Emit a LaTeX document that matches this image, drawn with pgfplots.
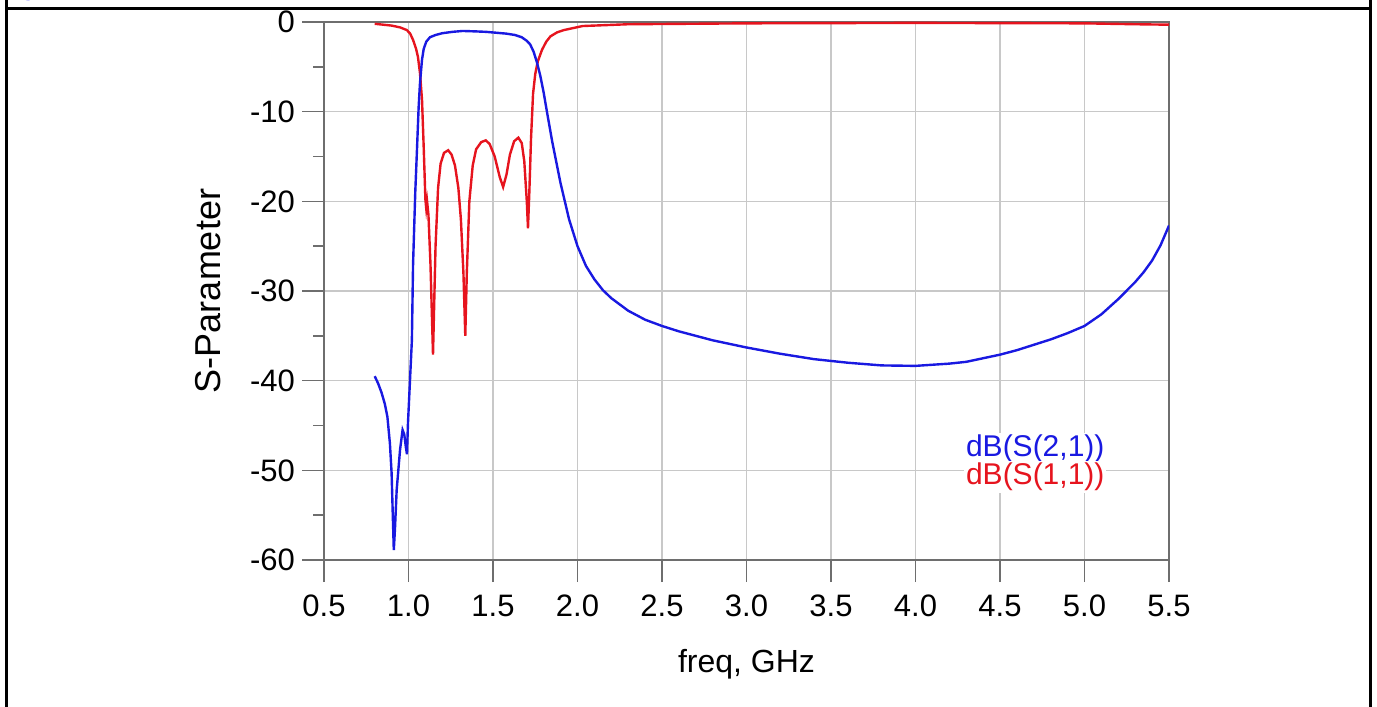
\documentclass[border=0pt]{standalone}
\usepackage{fontspec}
\setmainfont{Liberation Sans}
\usepackage{pgfplots}
\pgfplotsset{compat=1.18}

\definecolor{sblue}{RGB}{25,25,225}
\definecolor{sred}{RGB}{230,20,30}
\definecolor{gridgray}{RGB}{200,200,200}
\definecolor{axgray}{RGB}{110,110,110}

\begin{document}
\begin{tikzpicture}
% page = 1377 x 707 px, 1 px = 0.5bp
\path[use as bounding box] (0,0) rectangle (688.5bp,353.5bp);
% cell frame
\draw[line width=1.5bp] (3bp,0) -- (3bp,353.5bp);
\draw[line width=1.5bp] (685bp,0) -- (685bp,353.5bp);
\draw[line width=1.5bp] (3bp,349bp) -- (685bp,349bp);
\node[anchor=base west, text=blue, font=\fontsize{15bp}{18bp}\selectfont\bfseries, inner sep=0] at (12bp,356bp) {y.};

\begin{axis}[
  at={(162bp,73.5bp)}, anchor=south west,
  scale only axis,
  width=422.5bp, height=269bp,
  xmin=0.5, xmax=5.5, ymin=-60, ymax=0,
  xtick={0.5,1,...,5.5},
  ytick={-60,-50,...,0},
  minor y tick num=1,
  grid=major,
  major grid style={gridgray, line width=0.8bp},
  axis line style={axgray, line width=0.8bp},
  tick style={axgray, line width=0.8bp},
  tick align=outside,
  major tick length=11bp,
  minor tick length=5.5bp,
  xtick pos=bottom, ytick pos=left,
  /pgf/number format/assume math mode=true,
  x tick label style={/pgf/number format/fixed, /pgf/number format/fixed zerofill, /pgf/number format/precision=1},
  tick label style={font=\fontsize{15.5bp}{18bp}\selectfont},
  xticklabel style={anchor=north, yshift=-3bp},
  yticklabel style={anchor=east, xshift=0bp},
  xlabel={freq, GHz},
  ylabel={S-Parameter},
  every axis x label/.style={at={(axis description cs:0.5,0)}, anchor=base, yshift=-56bp, font=\fontsize{16bp}{19bp}\selectfont},
  every axis y label/.style={at={(axis description cs:0,0.5)}, xshift=-58bp, rotate=90, anchor=center, font=\fontsize{18bp}{21bp}\selectfont},
]
\addplot[sred, line width=1.2bp] coordinates {
(0.80,-0.2)(0.90,-0.4)(0.95,-0.6)(0.99,-0.9)(1.01,-1.3)(1.027,-2.0)(1.045,-3.0)
(1.056,-3.9)(1.068,-5.7)(1.08,-8.7)(1.09,-14)(1.10,-19.8)(1.105,-20.8)(1.11,-20.0)
(1.118,-21.5)(1.13,-27)(1.145,-37.1)(1.16,-25)(1.175,-18.5)(1.19,-15.8)(1.21,-14.6)
(1.235,-14.3)(1.255,-14.8)(1.275,-16.0)(1.295,-18.5)(1.31,-22)(1.325,-28)(1.336,-35.0)
(1.345,-28)(1.36,-20)(1.38,-16)(1.40,-14.2)(1.43,-13.4)(1.457,-13.2)(1.48,-13.6)
(1.51,-15.0)(1.54,-17.3)(1.56,-18.4)(1.58,-17)(1.60,-14.8)(1.625,-13.3)(1.65,-12.9)
(1.67,-13.5)(1.685,-15.5)(1.70,-20)(1.707,-23.0)(1.715,-19)(1.725,-13)(1.737,-8.0)
(1.75,-5.8)(1.765,-4.4)(1.79,-3.1)(1.815,-2.2)(1.84,-1.6)(1.88,-1.15)(1.92,-0.9)
(2.03,-0.45)(2.3,-0.25)(3.0,-0.15)(4.0,-0.1)(5.0,-0.15)(5.3,-0.25)(5.5,-0.3)
};
\addplot[sblue, line width=1.2bp] coordinates {
(0.80,-39.5)(0.82,-40.3)(0.84,-41.3)(0.86,-42.6)(0.875,-44.0)(0.89,-47.0)(0.90,-50.3)
(0.907,-55.0)(0.913,-58.9)(0.92,-56.5)(0.93,-52.2)(0.95,-47.7)(0.965,-45.5)(0.975,-46.0)
(0.985,-47.5)(0.991,-48.2)(0.997,-44.7)(1.009,-39.9)(1.02,-35.5)(1.027,-27)(1.04,-19)
(1.05,-14.3)(1.06,-9.5)(1.068,-6.8)(1.08,-4.2)(1.09,-3.0)(1.105,-2.2)(1.127,-1.7)(1.16,-1.45)(1.2,-1.25)
(1.26,-1.1)(1.32,-1.0)(1.40,-1.05)(1.46,-1.1)(1.52,-1.2)(1.58,-1.3)(1.63,-1.45)(1.67,-1.7)(1.70,-2.1)(1.72,-2.5)(1.74,-3.3)(1.76,-4.5)
(1.78,-6.0)(1.80,-7.9)(1.82,-10.1)(1.85,-13.3)(1.90,-18.0)(1.95,-22.0)(2.0,-25.0)
(2.05,-27.2)(2.1,-28.7)(2.15,-29.9)(2.2,-30.8)(2.3,-32.2)(2.4,-33.2)(2.5,-33.9)(2.6,-34.5)
(2.7,-35.0)(2.8,-35.5)(2.9,-35.9)(3.0,-36.3)(3.2,-37.0)(3.4,-37.6)(3.6,-38.0)(3.8,-38.3)
(4.0,-38.35)(4.2,-38.1)(4.3,-37.9)(4.4,-37.5)(4.5,-37.1)(4.6,-36.6)(4.7,-36.0)(4.8,-35.4)
(4.9,-34.7)(5.0,-33.9)(5.1,-32.6)(5.2,-30.9)(5.3,-29.0)(5.35,-27.9)(5.4,-26.6)(5.45,-24.9)(5.5,-22.7)
};
\node[anchor=base west, fill=white, inner sep=1bp, text=sblue, font=\fontsize{15bp}{18bp}\selectfont] at (axis cs:4.285,-48.5) {dB(S(2,1))};
\node[anchor=base west, fill=white, inner sep=1bp, text=sred, font=\fontsize{15bp}{18bp}\selectfont] at (axis cs:4.285,-51.6) {dB(S(1,1))};
\end{axis}
\end{tikzpicture}
\end{document}
